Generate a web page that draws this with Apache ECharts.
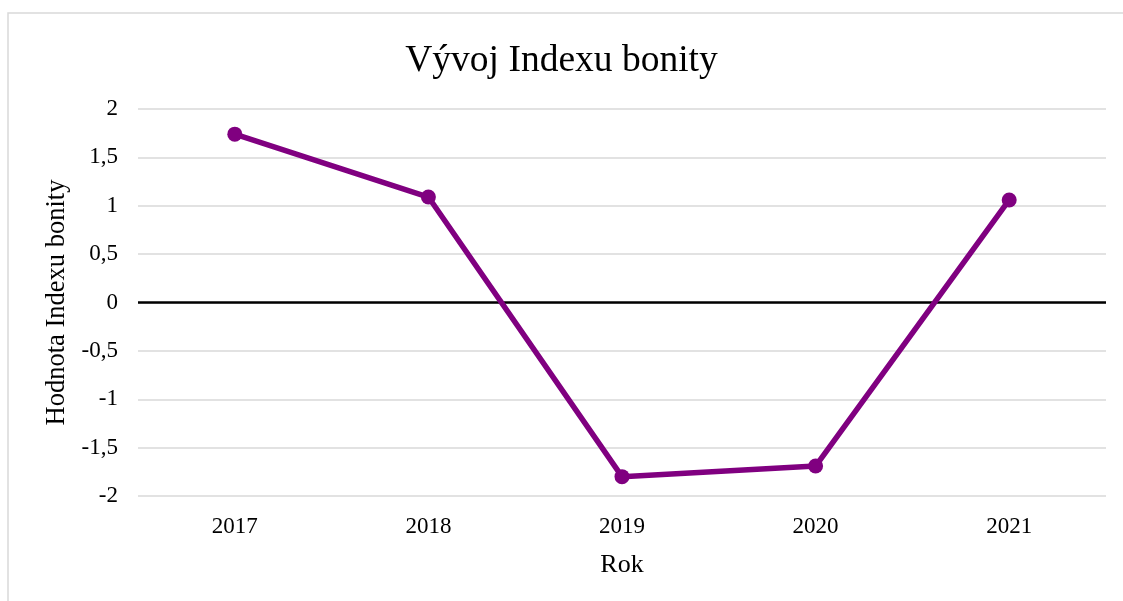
<!DOCTYPE html>
<html>
<head>
<meta charset="utf-8">
<script src="https://cdn.jsdelivr.net/npm/echarts@6/dist/echarts.min.js"></script>
<style>
html,body{margin:0;padding:0;background:#fff;}
#chart{width:1123px;height:601px;}
</style>
</head>
<body>
<div id="chart"></div>
<script>
const categories = ['2017', '2018', '2019', '2020', '2021'];
const values = [1.74, 1.09, -1.80, -1.69, 1.06];
const titleText = 'Vývoj Indexu bonity';
const xName = 'Rok';
const yName = 'Hodnota Indexu bonity';

const font = '"Liberation Serif", "Times New Roman", serif';
const chart = echarts.init(document.getElementById('chart'));
chart.setOption({
  backgroundColor: '#fff',
  animation: false,
  graphic: [{
    type: 'rect',
    shape: { x: 8, y: 13, width: 1300, height: 800 },
    style: { fill: 'none', stroke: '#d9d9d9', lineWidth: 1.5 },
    silent: true
  }],
  title: {
    text: titleText,
    left: 'center',
    top: 37,
    textStyle: { fontFamily: font, fontSize: 37.5, fontWeight: 'normal', color: '#000' }
  },
  grid: { left: 138, right: 17, top: 109, bottom: 105 },
  xAxis: {
    type: 'category',
    data: categories,
    name: xName,
    nameLocation: 'middle',
    nameGap: 56,
    nameTextStyle: { fontFamily: font, fontSize: 26, color: '#000' },
    axisLine: { show: false },
    axisTick: { show: false },
    axisLabel: { fontFamily: font, fontSize: 23, color: '#000', margin: 19 },
    splitLine: { show: false }
  },
  yAxis: {
    type: 'value',
    min: -2, max: 2, interval: 0.5,
    name: yName,
    nameLocation: 'middle',
    nameGap: 62,
    nameTextStyle: { fontFamily: font, fontSize: 26.5, color: '#000' },
    axisLine: { show: false },
    axisTick: { show: false },
    axisLabel: {
      fontFamily: font, fontSize: 23, color: '#000', margin: 20,
      formatter: v => String(v).replace('.', ',')
    },
    splitLine: { lineStyle: { color: '#d9d9d9', width: 1.5 } }
  },
  series: [{
    type: 'line',
    data: values,
    color: '#800080',
    lineStyle: { color: '#800080', width: 5.5 },
    itemStyle: { color: '#800080' },
    symbol: 'circle',
    symbolSize: 15,
    z: 3,
    markLine: {
      silent: true,
      symbol: 'none',
      label: { show: false },
      lineStyle: { color: '#000', width: 2.5, type: 'solid' },
      data: [{ yAxis: 0 }],
      z: 2
    }
  }]
});
</script>
</body>
</html>
